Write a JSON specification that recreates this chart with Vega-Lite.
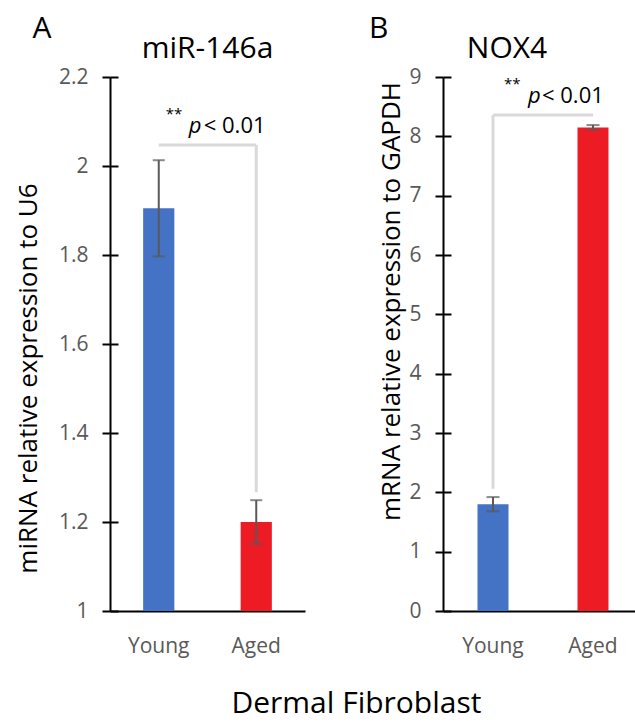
{
  "$schema": "https://vega.github.io/schema/vega-lite/v6.json",
  "background": "white",
  "padding": {"left": 15, "top": 14, "right": 0, "bottom": 0},
  "config": {
    "font": "Open Sans",
    "view": {"stroke": null},
    "axis": {"domainColor": "#000000", "domainWidth": 2, "ticks": true, "tickSize": 8, "tickWidth": 2, "tickColor": "#000000", "labelColor": "#595959", "labelFontSize": 21, "titleFontWeight": "normal", "titleColor": "#000000", "titleFontSize": 26, "labelFont": "Open Sans", "titleFont": "Open Sans"},
    "title": {"fontWeight": "normal", "color": "#000000", "font": "Open Sans"},
    "concat": {"spacing": 63}
  },
  "title": {"text": "Dermal Fibroblast", "orient": "bottom", "anchor": "start", "fontSize": 30, "dx": 216, "offset": 33},
  "datasets": {
    "a_bars": [
      {"group": "Young", "mean": 1.905, "lo": 1.797, "hi": 2.013},
      {"group": "Aged", "mean": 1.2, "lo": 1.151, "hi": 1.249}
    ],
    "a_bracket": [{"x1": "Young", "x2": "Aged", "top": 2.047, "bottom": 1.267}],
    "a_notes": [{"group": "Young", "ystar": 2.117, "ytext": 2.074, "stars": "**", "p": "p", "rest": "< 0.01"}],
    "b_bars": [
      {"group": "Young", "mean": 1.8, "lo": 1.68, "hi": 1.92},
      {"group": "Aged", "mean": 8.15, "lo": 8.11, "hi": 8.19}
    ],
    "b_bracket": [{"x1": "Young", "x2": "Aged", "top": 8.36, "bottom": 2.06}],
    "b_notes": [{"group": "Young", "ystar": 8.88, "ytext": 8.56, "stars": "**", "p": "p", "rest": "< 0.01"}]
  },
  "hconcat": [
    {
      "title": {"text": "A", "anchor": "start", "fontSize": 30, "dx": 17, "offset": -10},
      "vconcat": [
        {
          "width": 195,
          "height": 534,
          "title": {"text": "miR-146a", "fontSize": 30, "anchor": "middle", "offset": 2},
          "encoding": {
            "x": {"field": "group", "type": "nominal", "sort": ["Young", "Aged"], "title": null,
              "scale": {"domain": ["Young", "Aged"], "paddingInner": 0, "paddingOuter": 0},
              "axis": {"labelAngle": 0, "labelPadding": 24, "labelFontSize": 21, "ticks": false}}
          },
          "layer": [
            {
              "data": {"name": "a_bars"},
              "mark": {"type": "bar", "width": {"band": 0.32}},
              "encoding": {
                "y": {"field": "mean", "type": "quantitative",
                  "scale": {"domain": [1, 2.2], "zero": false, "nice": false},
                  "axis": {"values": [1, 1.2, 1.4, 1.6, 1.8, 2, 2.2], "format": "~g", "grid": true, "gridColor": "#000000", "gridWidth": 2, "gridDash": [8, 4000], "labelPadding": 14, "titlePadding": 17, "titleY": 301, "title": "miRNA relative expression to U6"}},
                "y2": {"datum": 1},
                "color": {"field": "group", "type": "nominal", "scale": {"domain": ["Young", "Aged"], "range": ["#4472C4", "#ED1C24"]}, "legend": null}
              }
            },
            {
              "data": {"name": "a_bars"},
              "mark": {"type": "rule", "color": "#595959", "strokeWidth": 2},
              "encoding": {"y": {"field": "lo", "type": "quantitative"}, "y2": {"field": "hi"}}
            },
            {
              "data": {"name": "a_bars"},
              "mark": {"type": "tick", "color": "#595959", "thickness": 2, "size": 12, "orient": "horizontal"},
              "encoding": {"y": {"field": "lo", "type": "quantitative"}}
            },
            {
              "data": {"name": "a_bars"},
              "mark": {"type": "tick", "color": "#595959", "thickness": 2, "size": 12, "orient": "horizontal"},
              "encoding": {"y": {"field": "hi", "type": "quantitative"}}
            },
            {
              "data": {"name": "a_bracket"},
              "mark": {"type": "rule", "color": "#D9D9D9", "strokeWidth": 3},
              "encoding": {"x": {"field": "x1", "type": "nominal"}, "x2": {"field": "x2"}, "y": {"field": "top", "type": "quantitative"}}
            },
            {
              "data": {"name": "a_bracket"},
              "mark": {"type": "rule", "color": "#D9D9D9", "strokeWidth": 3},
              "encoding": {"x": {"field": "x2", "type": "nominal"}, "y": {"field": "top", "type": "quantitative"}, "y2": {"field": "bottom"}}
            },
            {
              "data": {"name": "a_notes"},
              "mark": {"type": "text", "align": "left", "baseline": "middle", "fontSize": 15, "dx": 7, "color": "#000000"},
              "encoding": {"y": {"field": "ystar", "type": "quantitative"}, "text": {"field": "stars"}}
            },
            {
              "data": {"name": "a_notes"},
              "mark": {"type": "text", "align": "left", "baseline": "alphabetic", "fontSize": 22, "fontStyle": "italic", "dx": 30, "color": "#000000"},
              "encoding": {"y": {"field": "ytext", "type": "quantitative"}, "text": {"field": "p"}}
            },
            {
              "data": {"name": "a_notes"},
              "mark": {"type": "text", "align": "left", "baseline": "alphabetic", "fontSize": 22, "dx": 45, "color": "#000000"},
              "encoding": {"y": {"field": "ytext", "type": "quantitative"}, "text": {"field": "rest"}}
            }
          ]
        }
      ]
    },
    {
      "title": {"text": "B", "anchor": "start", "fontSize": 30, "dx": -10, "offset": -10},
      "vconcat": [
        {
          "width": 200,
          "height": 534,
          "title": {"text": "NOX4", "fontSize": 30, "anchor": "middle", "offset": 2, "dx": -36},
          "encoding": {
            "x": {"field": "group", "type": "nominal", "sort": ["Young", "Aged"], "title": null,
              "scale": {"domain": ["Young", "Aged"], "paddingInner": 0, "paddingOuter": 0},
              "axis": {"labelAngle": 0, "labelPadding": 24, "labelFontSize": 21, "ticks": false}}
          },
          "layer": [
            {
              "data": {"name": "b_bars"},
              "mark": {"type": "bar", "width": {"band": 0.31}},
              "encoding": {
                "y": {"field": "mean", "type": "quantitative",
                  "scale": {"domain": [0, 9], "nice": false},
                  "axis": {"values": [0, 1, 2, 3, 4, 5, 6, 7, 8, 9], "format": "~g", "grid": true, "gridColor": "#000000", "gridWidth": 2, "gridDash": [8, 4000], "labelPadding": 14, "titlePadding": 4, "titleY": 224, "title": "mRNA relative expression to GAPDH"}},
                "y2": {"datum": 0},
                "color": {"field": "group", "type": "nominal", "scale": {"domain": ["Young", "Aged"], "range": ["#4472C4", "#ED1C24"]}, "legend": null}
              }
            },
            {
              "data": {"name": "b_bars"},
              "mark": {"type": "rule", "color": "#595959", "strokeWidth": 2},
              "encoding": {"y": {"field": "lo", "type": "quantitative"}, "y2": {"field": "hi"}}
            },
            {
              "data": {"name": "b_bars"},
              "mark": {"type": "tick", "color": "#595959", "thickness": 2, "size": 13, "orient": "horizontal"},
              "encoding": {"y": {"field": "lo", "type": "quantitative"}}
            },
            {
              "data": {"name": "b_bars"},
              "mark": {"type": "tick", "color": "#595959", "thickness": 2, "size": 13, "orient": "horizontal"},
              "encoding": {"y": {"field": "hi", "type": "quantitative"}}
            },
            {
              "data": {"name": "b_bracket"},
              "mark": {"type": "rule", "color": "#D9D9D9", "strokeWidth": 3},
              "encoding": {"x": {"field": "x1", "type": "nominal"}, "x2": {"field": "x2"}, "y": {"field": "top", "type": "quantitative"}}
            },
            {
              "data": {"name": "b_bracket"},
              "mark": {"type": "rule", "color": "#D9D9D9", "strokeWidth": 3},
              "encoding": {"x": {"field": "x1", "type": "nominal"}, "y": {"field": "top", "type": "quantitative"}, "y2": {"field": "bottom"}}
            },
            {
              "data": {"name": "b_notes"},
              "mark": {"type": "text", "align": "left", "baseline": "middle", "fontSize": 15, "dx": 11, "color": "#000000"},
              "encoding": {"y": {"field": "ystar", "type": "quantitative"}, "text": {"field": "stars"}}
            },
            {
              "data": {"name": "b_notes"},
              "mark": {"type": "text", "align": "left", "baseline": "alphabetic", "fontSize": 22, "fontStyle": "italic", "dx": 35, "color": "#000000"},
              "encoding": {"y": {"field": "ytext", "type": "quantitative"}, "text": {"field": "p"}}
            },
            {
              "data": {"name": "b_notes"},
              "mark": {"type": "text", "align": "left", "baseline": "alphabetic", "fontSize": 22, "dx": 49, "color": "#000000"},
              "encoding": {"y": {"field": "ytext", "type": "quantitative"}, "text": {"field": "rest"}}
            }
          ]
        }
      ]
    }
  ]
}
